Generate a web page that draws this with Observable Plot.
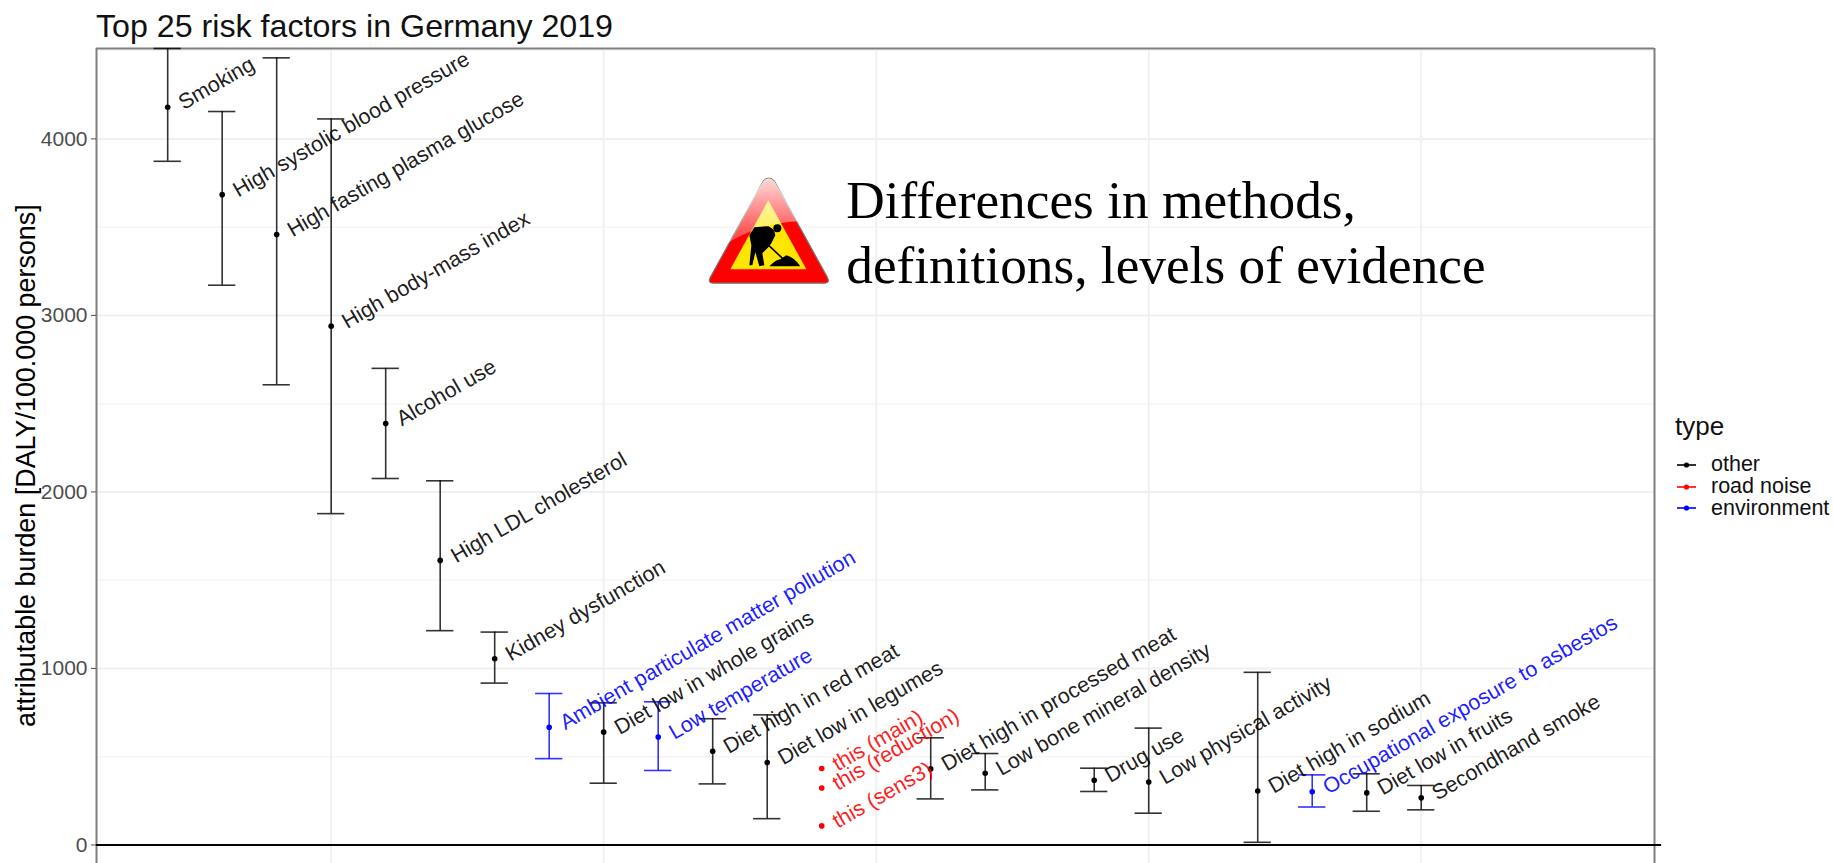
<!DOCTYPE html>
<html><head><meta charset="utf-8">
<script src="https://cdn.jsdelivr.net/npm/d3@7"></script>
<script src="https://cdn.jsdelivr.net/npm/@observablehq/plot@0.6"></script>
<style>
html,body{margin:0;padding:0;background:#fff;overflow:hidden;width:1833px;height:863px}
#wrap{position:relative;width:1833px;height:863px;font-family:"Liberation Sans",sans-serif}
#wrap svg.plot{position:absolute;left:0;top:0}
#title{position:absolute;left:96px;top:8px;font-size:32.2px;line-height:36px;color:#111;white-space:nowrap}
#legend{position:absolute;left:1675px;top:410px;color:#111}
#legend .h{font-size:26px;line-height:32px;margin-bottom:12px}
#legend .r{display:flex;align-items:center;height:21.7px;font-size:21.5px;white-space:nowrap}
#legend .r svg{margin:0 15px 0 2px}
</style></head><body><div id="wrap"></div>
<script>
const labels = ["Smoking","High systolic blood pressure","High fasting plasma glucose","High body-mass index","Alcohol use","High LDL cholesterol","Kidney dysfunction","Ambient particulate matter pollution","Diet low in whole grains","Low temperature","Diet high in red meat","Diet low in legumes","this (main)","this (reduction)","this (sens3)","Diet high in processed meat","Low bone mineral density","Drug use","Low physical activity","Diet high in sodium","Occupational exposure to asbestos","Diet low in fruits","Secondhand smoke"];
const ranks  = [1,2,3,4,5,6,7,8,9,10,11,12,13,13,13,15,16,18,19,21,22,23,24];
const mids   = [4179,3684,3458,2939,2388,1612,1055,667,639,611,531,467,433,323,108,431,406,367,357,306,301,295,267];
const lows   = [3873,3171,2607,1877,2076,1214,917,489,350,422,346,149,null,null,null,261,312,303,180,15,215,191,199];
const highs  = [4512,4155,4459,4113,2700,2063,1206,858,805,811,715,737,null,null,null,607,518,435,662,978,397,403,337];
const types  = ["other","other","other","other","other","other","other","environment","other","environment","other","other","road noise","road noise","road noise","other","other","other","other","other","environment","other","other"];
const typeNames = ["other","road noise","environment"];
const typeColors = ["#000000","#ff0000","#0000ff"];
const yMajor = [0,1000,2000,3000,4000];
const yMinor = [500,1500,2500,3500,4500];
const xMajor = [4,9,14,19,24];
const xDomain = [-0.306,28.28];
const yDomain = [-105,4512];
const note = ["Differences in methods,","definitions, levels of evidence"];
const noteX = [13.45,13.45];
const noteY = [3646,3282];
const signX = 12.03, signY = 3480;
const titleText = "Top 25 risk factors in Germany 2019";
const yLabel = "attributable burden [DALY/100.000 persons]";

const rows = labels.map((label,i)=>({label,rank:ranks[i],mid:mids[i],lo:lows[i],hi:highs[i],type:types[i]}));
const bars = rows.filter(d=>d.lo!=null);
const capW = 0.25;

const signSvg = `<svg xmlns="http://www.w3.org/2000/svg" viewBox="0 0 121 107" width="123" height="107">
<defs><linearGradient id="g" x1="0" y1="0" x2="0" y2="1"><stop offset="0" stop-color="#fff" stop-opacity=".85"/><stop offset="1" stop-color="#fff" stop-opacity=".2"/></linearGradient></defs>
<path d="M55 4 Q60.5 -2 66 4 L119 100 Q122 106 116 106 L5 106 Q-1 106 2 100 Z" fill="#ff0000" stroke="#777" stroke-width="1.2"/>
<path d="M60 23 L98 92 L22 92 Z" fill="#ffe600"/>
<path d="M55 4 Q60.5 -2 66 4 L90 44 Q50 46 14 69 Z" fill="url(#g)"/>
<circle cx="69" cy="51" r="4"/>
<path d="M46 50 L60 49 Q67 52 67 58 L63 66 L60 70 L54 76 L56 88 L51 89 L47 75 L44 88 L41 88 L43 68 L41 58 Z"/>
<path d="M58 66 L75 82" stroke="#000" stroke-width="1.6"/>
<path d="M61 89 Q68 82 72 82 L78 78 Q86 80 92 89 Z"/>
</svg>`;
const signUri = "data:image/svg+xml;charset=utf-8," + encodeURIComponent(signSvg);

const plot = Plot.plot({
  width:1833, height:863,
  marginTop:48, marginLeft:96, marginRight:179, marginBottom:0,
  x:{domain:xDomain, range:[96,1654], axis:null},
  y:{domain:yDomain, range:[863,48], axis:null},
  color:{domain:typeNames, range:typeColors},
  style:{fontFamily:'"Liberation Sans",sans-serif', background:"transparent"},
  marks:[
    Plot.ruleY(yMinor,{stroke:"#f5f5f5",strokeWidth:1.5}),
    Plot.ruleY(yMajor,{stroke:"#f0f0f0",strokeWidth:2}),
    Plot.ruleX(xMajor,{stroke:"#f0f0f0",strokeWidth:2}),
    Plot.ruleX(xDomain,{stroke:"#7f7f7f",strokeWidth:2}),
    Plot.ruleY([yDomain[1]],{stroke:"#7f7f7f",strokeWidth:2}),
    Plot.axisY({ticks:yMajor,tickFormat:"d",tickSize:5,tickPadding:4,label:null,fontSize:21,color:"#4d4d4d",anchor:"left"}),
    Plot.text([yLabel],{x:[-1.6],y:[2149],text:d=>d,rotate:-90,fontSize:26.9,fill:"#000"}),
    Plot.ruleY([0],{x1:xDomain[0],x2:28.41,stroke:"#000",strokeWidth:2}),
    Plot.ruleX(bars,{x:"rank",y1:"lo",y2:"hi",stroke:"type",strokeWidth:1.6,strokeOpacity:.8}),
    Plot.ruleY(bars,{y:"lo",x1:d=>d.rank-capW,x2:d=>d.rank+capW,stroke:"type",strokeWidth:1.6,strokeOpacity:.8}),
    Plot.ruleY(bars,{y:"hi",x1:d=>d.rank-capW,x2:d=>d.rank+capW,stroke:"type",strokeWidth:1.6,strokeOpacity:.8}),
    Plot.dot(rows,{x:"rank",y:"mid",fill:"type",r:2.8}),
    Plot.text(rows,{x:"rank",y:"mid",text:"label",fill:"type",fillOpacity:.9,rotate:-30,textAnchor:"start",lineAnchor:"middle",dx:12.5,dy:-3,fontSize:21.5}),
    Plot.image([0],{x:[signX],y:[signY],src:[signUri],width:123,height:107}),
    Plot.text(note,{x:noteX,y:noteY,text:d=>d,textAnchor:"start",lineAnchor:"middle",fontSize:53.3,fontFamily:'"Liberation Serif",serif',fill:"#000"})
  ]
});
const wrap=document.getElementById("wrap");
wrap.appendChild(plot);
const t=document.createElement("div");t.id="title";t.textContent=titleText;wrap.appendChild(t);
const lg=document.createElement("div");lg.id="legend";
lg.innerHTML='<div class="h">type</div>'+typeNames.map((n,i)=>`<div class="r"><svg width="19" height="8"><line x1="0" x2="19" y1="4" y2="4" stroke="${typeColors[i]}" stroke-width="1.6"/><circle cx="9.5" cy="4" r="2.6" fill="${typeColors[i]}"/></svg><span>${n}</span></div>`).join("");
wrap.appendChild(lg);
</script></body></html>
